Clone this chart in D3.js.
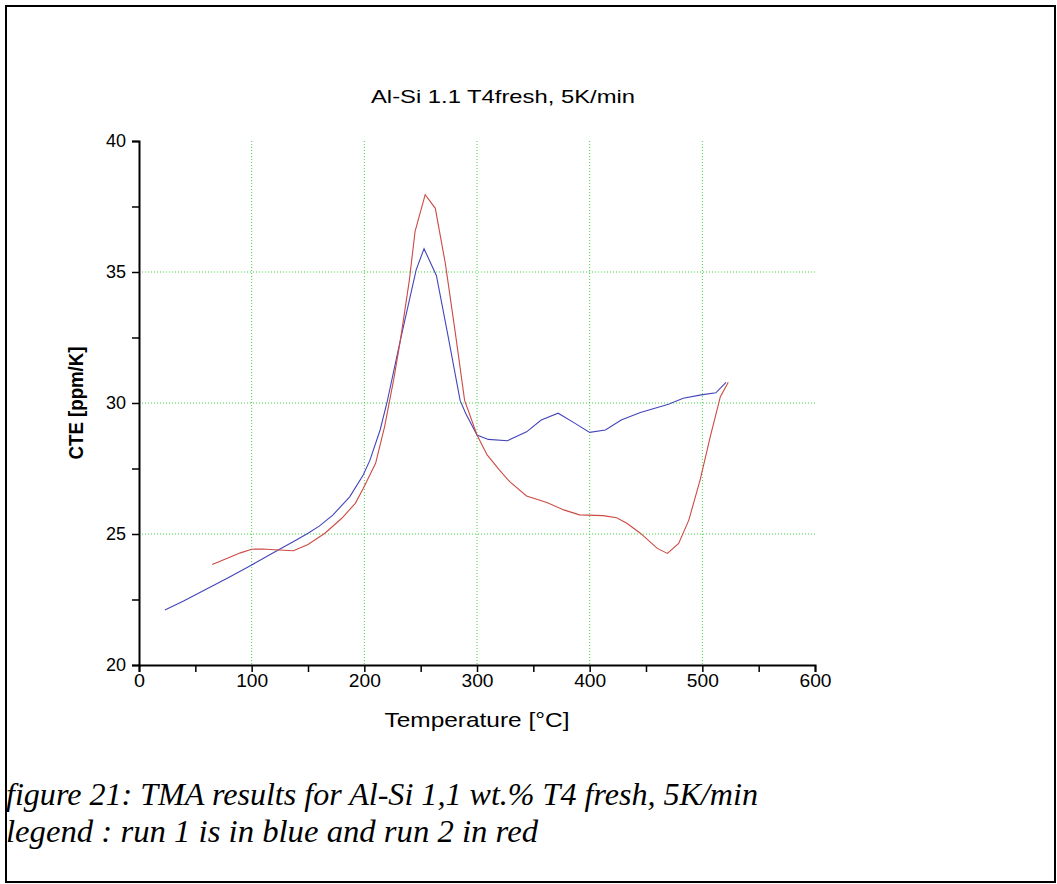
<!DOCTYPE html>
<html lang="en">
<head>
<meta charset="utf-8">
<script src="https://d3js.org/d3.v7.min.js"></script>
<style>
  body { margin: 0; background: #fff; }
  svg text { font-family: "Liberation Sans", Arial, sans-serif; }
</style>
</head>
<body>
<svg id="chart" width="1057" height="884"></svg>
<script>

// run 1 (blue) : temperature [°C], CTE [ppm/K]
const run1T = [23, 40, 60, 80, 100, 120, 140, 150, 160, 172, 187, 199, 205, 214, 220, 232, 246, 253, 264, 275, 285, 290, 300, 310, 327, 344, 357, 372, 386, 400, 414, 428, 445, 470, 483, 499, 512, 521];
const run1V = [22.1, 22.45, 22.9, 23.35, 23.82, 24.3, 24.78, 25.03, 25.3, 25.72, 26.42, 27.25, 27.82, 28.97, 30.0, 32.4, 35.08, 35.89, 34.86, 32.4, 30.1, 29.6, 28.78, 28.61, 28.56, 28.9, 29.35, 29.61, 29.25, 28.88, 28.97, 29.35, 29.64, 29.95, 30.18, 30.31, 30.39, 30.79];

// run 2 (red)
const run2T = [65, 80, 90, 100, 110, 120, 137, 150, 165, 180, 192, 199, 210, 218, 226, 232, 240, 245, 254, 263, 272, 281, 289, 300, 309, 320, 329, 344, 362, 377, 391, 412, 424, 433, 445, 460, 469, 479, 488, 498, 507, 516, 523];
const run2V = [23.84, 24.1, 24.28, 24.42, 24.43, 24.4, 24.36, 24.6, 25.03, 25.6, 26.17, 26.74, 27.7, 29.1, 30.88, 32.4, 34.7, 36.54, 37.95, 37.43, 35.3, 32.6, 30.1, 28.78, 28.02, 27.44, 27.0, 26.45, 26.2, 25.92, 25.73, 25.7, 25.62, 25.41, 25.03, 24.45, 24.26, 24.64, 25.53, 27.06, 28.71, 30.24, 30.79];

const xTicks = [0, 50, 100, 150, 200, 250, 300, 350, 400, 450, 500, 550, 600];
const yTicks = [20, 22.5, 25, 27.5, 30, 32.5, 35, 37.5, 40];
const xGrid = [100, 200, 300, 400, 500];
const yGrid = [25, 30, 35];

const svg = d3.select("#chart");

// frame round the figure
svg.append("rect")
  .attr("x", 6).attr("y", 6)
  .attr("width", 1049).attr("height", 876)
  .attr("fill", "none").attr("stroke", "#000").attr("stroke-width", 2);

const x = d3.scaleLinear().domain([0, 600]).range([139, 815]);
const y = d3.scaleLinear().domain([20, 40]).range([665, 141]);

// grid
svg.append("g").selectAll("line")
  .data(xGrid)
  .join("line")
    .attr("x1", d => x(d)).attr("x2", d => x(d))
    .attr("y1", y(40)).attr("y2", y(20))
    .attr("stroke", "#3cd83c").attr("stroke-width", 1)
    .attr("stroke-dasharray", "1,2");
svg.append("g").selectAll("line")
  .data(yGrid)
  .join("line")
    .attr("x1", x(0)).attr("x2", x(600))
    .attr("y1", d => y(d)).attr("y2", d => y(d))
    .attr("stroke", "#3cd83c").attr("stroke-width", 1)
    .attr("stroke-dasharray", "1,2");

// axes
const xAxis = svg.append("g")
  .attr("transform", `translate(0,${y(20)})`)
  .call(d3.axisBottom(x).tickValues(xTicks).tickSizeOuter(0).tickSize(7).tickPadding(2)
    .tickFormat(d => d % 100 === 0 ? d : ""));
const yAxis = svg.append("g")
  .attr("transform", `translate(${x(0)},0)`)
  .call(d3.axisLeft(y).tickValues(yTicks).tickSizeOuter(0).tickSize(7).tickPadding(6)
    .tickFormat(d => d % 5 === 0 ? d : ""));

[xAxis, yAxis].forEach(a => {
  a.select(".domain").attr("stroke", "#000").attr("stroke-width", 2);
  a.selectAll(".tick line").attr("stroke", "#000").attr("stroke-width", 1.5);
  a.selectAll(".tick text")
    .attr("fill", "#000")
    .style("font-size", "18px")
    .style("font-family", "'Liberation Sans', Arial, sans-serif");
});
xAxis.selectAll(".tick text")
  .attr("textLength", d => d === 0 ? 11 : 32)
  .attr("lengthAdjust", "spacingAndGlyphs");

// curves
const line = d3.line().x(d => x(d[0])).y(d => y(d[1]));
svg.append("path")
  .datum(run1T.map((t, i) => [t, run1V[i]]))
  .attr("d", line)
  .attr("fill", "none").attr("stroke", "#4444bb").attr("stroke-width", 1.1);
svg.append("path")
  .datum(run2T.map((t, i) => [t, run2V[i]]))
  .attr("d", line)
  .attr("fill", "none").attr("stroke", "#cc4a44").attr("stroke-width", 1.1);

// titles
svg.append("text")
  .attr("x", 503).attr("y", 103)
  .attr("text-anchor", "middle")
  .attr("textLength", 264)
  .attr("lengthAdjust", "spacingAndGlyphs")
  .style("font-size", "19px")
  .text("Al-Si 1.1 T4fresh, 5K/min");

svg.append("text")
  .attr("x", 477).attr("y", 727)
  .attr("text-anchor", "middle")
  .attr("textLength", 185)
  .attr("lengthAdjust", "spacingAndGlyphs")
  .style("font-size", "21px")
  .text("Temperature [°C]");

svg.append("text")
  .attr("transform", "translate(83,403) rotate(-90)")
  .attr("text-anchor", "middle")
  .attr("textLength", 113)
  .attr("lengthAdjust", "spacingAndGlyphs")
  .style("font-size", "20px")
  .style("font-weight", "bold")
  .text("CTE [ppm/K]");

// caption
const caption = [
  ["figure 21: TMA results for Al-Si 1,1 wt.% T4 fresh, 5K/min", 752, 805],
  ["legend : run 1 is in blue and run 2 in red", 532, 842]
];
caption.forEach(([t, w, yy]) => {
  svg.append("text")
    .attr("x", 6).attr("y", yy)
    .attr("textLength", w)
    .attr("lengthAdjust", "spacingAndGlyphs")
    .style("font-family", "'Liberation Serif', 'Times New Roman', serif")
    .style("font-style", "italic")
    .style("font-size", "31px")
    .text(t);
});
</script>
</body>
</html>
